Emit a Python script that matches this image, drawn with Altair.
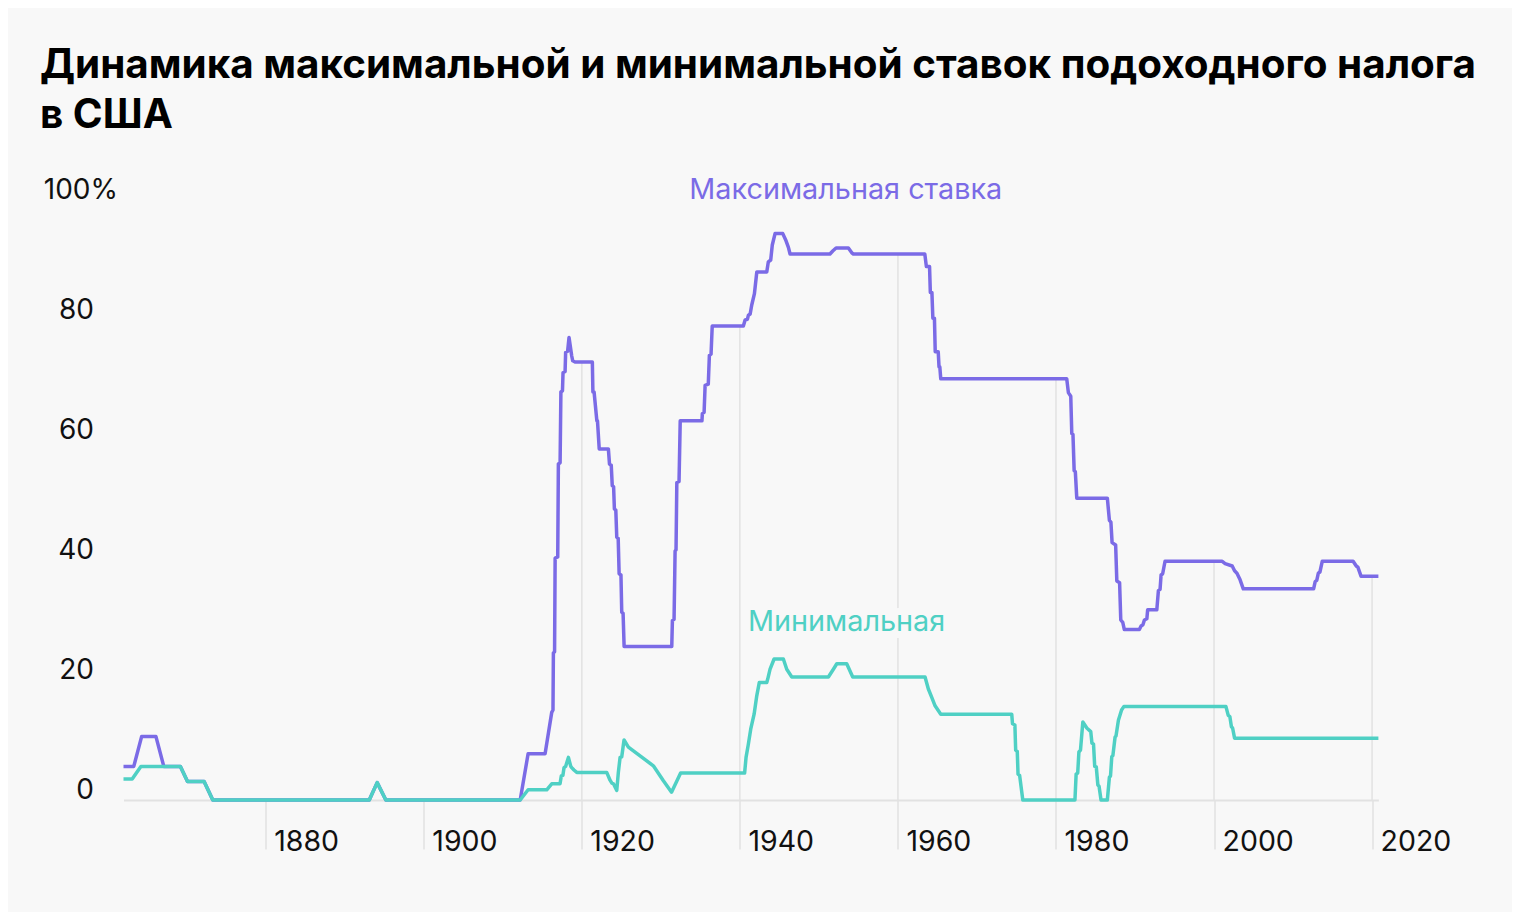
import altair as alt
import pandas as pd
import numpy as np

# ---- data ----
max_years = [1862.0, 1863.3, 1864.3, 1866.1, 1867.1, 1869.2, 1870.1, 1872.2, 1873.3, 1893.1, 1894.1, 1895.2,
             1912.2, 1913.2, 1915.35, 1916.19, 1916.35, 1916.4, 1916.55, 1916.62, 1916.95, 1917.03, 1917.25,
             1917.35, 1917.55, 1917.62, 1917.88, 1917.95, 1918.2, 1918.38, 1918.72, 1918.85, 1919.14,
             1921.33, 1921.4, 1921.55, 1921.9, 1921.98, 1922.2, 1923.36, 1923.5, 1923.72, 1923.85, 1924.02,
             1924.12, 1924.3, 1924.42, 1924.6, 1924.72, 1924.95, 1925.05, 1925.22, 1925.35,
             1931.38, 1931.46, 1931.67, 1931.8, 1931.92, 1932.02, 1932.3, 1932.45,
             1935.2, 1935.25, 1935.47, 1935.6, 1936.0, 1936.14, 1936.35, 1936.5,
             1940.44, 1940.66, 1940.95, 1941.08, 1941.3, 1941.5, 1941.84, 1942.14, 1943.4, 1943.6, 1943.9,
             1944.1, 1944.45, 1945.43, 1945.84, 1946.14, 1946.35,
             1951.4, 1951.75, 1952.17, 1953.73, 1954.16, 1954.36,
             1963.4, 1963.6, 1964.0, 1964.1, 1964.3, 1964.42, 1964.62, 1964.72, 1965.1, 1965.2, 1965.3, 1965.42,
             1981.36, 1981.57, 1981.87, 1982.0, 1982.15, 1982.3, 1982.45, 1982.63,
             1986.5, 1986.76, 1986.95, 1987.1, 1987.55, 1987.7, 1988.05, 1988.2, 1988.45, 1988.65,
             1990.55, 1990.77, 1991.0, 1991.19, 1991.5, 1991.6, 1992.76, 1992.96, 1993.17, 1993.3, 1993.5, 1993.8,
             2001.0, 2001.4, 2002.3, 2002.6, 2002.9, 2003.3, 2003.7,
             2012.6, 2012.8, 2013.0, 2013.2, 2013.4, 2013.7, 2017.6, 2018.0, 2018.2, 2018.6, 2020.8]
max_values = [5.6, 5.6, 10.6, 10.6, 5.6, 5.6, 3.1, 3.1, 0, 0, 2.9, 0,
              0, 7.7, 7.7, 14.6, 15, 24.5, 24.7, 40.3, 40.5, 56, 56.2,
              68, 68.2, 71.2, 71.4, 74.6, 74.8, 77.1, 74, 73.2, 73,
              73, 68, 68, 63.2, 63.2, 58.5, 58.5, 56, 55.8, 52.4, 52.2,
              48.5, 48.3, 43.8, 43.6, 37.7, 37.5, 31.3, 31.1, 25.6,
              25.6, 29.9, 30.1, 41.5, 41.7, 52.9, 53.1, 63.2,
              63.2, 64.4, 64.6, 69.1, 69.3, 74.1, 74.3, 79,
              79, 80, 80.1, 80.8, 81, 82.5, 84.4, 88, 88, 89.7, 90,
              92.5, 94.4, 94.4, 93.2, 92.1, 91,
              91, 91.5, 92, 92, 91.2, 91,
              91, 88.9, 88.9, 84.6, 84.6, 80.3, 80.3, 74.7, 74.7, 72.2, 72.2, 70.2,
              70.2, 67.9, 67.3, 61.1, 60.9, 54.9, 54.7, 50.3,
              50.3, 46.6, 46.3, 42.9, 42.5, 36.5, 36.2, 30, 29.6, 28.4,
              28.4, 29, 29.2, 30, 30.2, 31.7, 31.7, 34.9, 35.1, 37.5, 37.7, 39.8,
              39.8, 39.4, 39.0, 38.2, 37.8, 36.7, 35.2,
              35.2, 36.4, 36.6, 37.8, 38.0, 39.8, 39.8, 39.0, 38.8, 37.3, 37.3]

min_years = [1862.0, 1863.1, 1864.2, 1869.2, 1870.1, 1872.2, 1873.3, 1893.1, 1894.1, 1895.2,
             1912.2, 1913.2, 1915.56, 1916.19, 1917.24, 1917.4, 1917.6, 1917.75, 1917.95, 1918.3, 1918.6,
             1918.72, 1919.0, 1919.36, 1923.15, 1923.57, 1923.8, 1924.0, 1924.42, 1924.62, 1924.84, 1925.05,
             1925.34, 1925.89, 1929.05, 1930.32, 1931.35, 1932.5, 1940.6, 1940.78, 1941.07, 1941.37, 1941.8,
             1942.14, 1942.46, 1943.4, 1943.53, 1943.82, 1944.33, 1945.5, 1945.93, 1946.57, 1951.2, 1951.83,
             1952.26, 1953.52, 1954.28, 1963.43, 1963.85, 1964.28, 1964.7, 1965.42, 1974.4, 1974.5, 1974.8,
             1974.9, 1975.1, 1975.2, 1975.4, 1975.8, 1982.4, 1982.55, 1982.75, 1982.9, 1983.1, 1983.4, 1983.9,
             1984.4, 1984.55, 1984.75, 1984.9, 1985.1, 1985.3, 1985.45, 1985.7, 1986.5, 1986.76, 1986.9,
             1987.06, 1987.2, 1987.48, 1987.6, 1987.9, 1988.3, 1988.6, 2001.5, 2001.8, 2002.0, 2002.2,
             2002.35, 2002.6, 2020.8]
min_values = [3.5, 3.5, 5.6, 5.6, 3.1, 3.1, 0, 0, 2.9, 0,
              0, 1.7, 1.7, 2.7, 2.7, 4.0, 4.1, 5.4, 5.6, 7.1, 5.6,
              5.4, 5.0, 4.6, 4.6, 3.3, 2.8, 2.7, 1.6, 4.6, 7.1, 7.2,
              10.0, 8.8, 5.7, 3.2, 1.3, 4.5, 4.5, 7.1, 9.3, 11.8, 14.3,
              17.4, 19.6, 19.6, 20.2, 21.8, 23.5, 23.5, 21.8, 20.5, 20.5, 21.8,
              22.7, 22.7, 20.5, 20.5, 18.5, 17.1, 15.7, 14.3, 14.3, 12.7, 12.5,
              8.3, 8.1, 4.3, 4.1, 0, 0, 4.3, 4.5, 8.0, 8.3, 13.0, 12.0,
              11.4, 9.5, 9.3, 5.6, 5.5, 2.5, 2.3, 0, 0, 3.8, 4.0,
              7.2, 7.4, 10.5, 10.7, 13.3, 15.0, 15.6, 15.6, 14.1, 13.9, 12.2,
              12.0, 10.3, 10.3]

grid_years = [1880, 1900, 1920, 1940, 1960, 1980, 2000, 2020]
y_ticks = [0, 20, 40, 60, 80, 100]

label_texts = ["Максимальная ставка", "Минимальная"]
label_years = [1953.4, 1953.5]
label_values = [100.1, 28.1]

title_lines = ["Динамика максимальной и минимальной ставок подоходного налога", "в США"]

PURPLE = "#7b6be6"
TEAL = "#4fd0c4"
BG = "#f8f8f8"
GRID = "#e2e2e2"
FONT = "Inter"

# ---- tables ----
max_df = pd.DataFrame({"year": max_years, "value": max_values, "i": range(len(max_years))})
min_df = pd.DataFrame({"year": min_years, "value": min_values, "i": range(len(min_years))})
grid_df = pd.DataFrame({
    "year": grid_years,
    "top": np.interp(grid_years, max_years, max_values),
    "base": [0] * len(grid_years),
})
label_df = pd.DataFrame({"year": label_years, "value": label_values, "text": label_texts})

x_scale = alt.Scale(domain=[1862, 2020.8], nice=False, zero=False)
y_scale = alt.Scale(domain=[0, 100], nice=False)

x_axis = alt.Axis(
    values=grid_years, format="d", grid=False, title=None,
    domain=True, domainColor=GRID, domainWidth=2,
    ticks=True, tickSize=49, tickColor=GRID, tickWidth=1.5,
    labelAlign="left", labelOffset=8, labelPadding=-22, labelBaseline="top",
    labelFont=FONT, labelFontSize=28.5, labelColor="#111111",
    labelFlush=False, labelOverlap=False,
)
y_axis = alt.Axis(
    values=y_ticks, grid=False, domain=False, ticks=False, title=None,
    labelExpr="datum.value == 100 ? '100%' : datum.label",
    labelAlign="right", labelBaseline="middle", labelOffset=-10,
    labelPadding={"condition": {"test": "datum.value == 100", "value": 6}, "value": 30},
    labelFont=FONT, labelFontSize=28, labelColor="#111111",
)

X = alt.X("year:Q", scale=x_scale, axis=x_axis)

rules = alt.Chart(grid_df).mark_rule(color=GRID, strokeWidth=1.5).encode(
    x=X,
    y=alt.Y("top:Q", scale=y_scale, axis=y_axis),
    y2="base:Q",
)

max_line = alt.Chart(max_df).mark_line(color=PURPLE, strokeWidth=3.5, strokeJoin="round").encode(
    x=X, y=alt.Y("value:Q", scale=y_scale, axis=y_axis), order="i:Q"
)
min_line = alt.Chart(min_df).mark_line(color=TEAL, strokeWidth=3.5, strokeJoin="round").encode(
    x=X, y=alt.Y("value:Q", scale=y_scale, axis=y_axis), order="i:Q"
)

color_enc = alt.Color("text:N", scale=alt.Scale(domain=label_texts, range=[PURPLE, TEAL]), legend=None)

halo = alt.Chart(label_df).mark_text(
    font=FONT, fontSize=28.8, align="center", baseline="alphabetic",
    fill=BG, stroke=BG, strokeWidth=14, strokeJoin="round",
).encode(x=X, y=alt.Y("value:Q", scale=y_scale, axis=y_axis), text="text:N")

labels = alt.Chart(label_df).mark_text(
    font=FONT, fontSize=28.8, align="center", baseline="alphabetic",
).encode(x=X, y=alt.Y("value:Q", scale=y_scale, axis=y_axis), text="text:N", color=color_enc)

chart = alt.layer(rules, max_line, min_line, halo, labels).properties(
    width=1254.9,
    height=600,
    padding={"left": 115.5, "top": 192, "right": 133.6, "bottom": 112},
    autosize=alt.AutoSizeParams(type="none"),
    background=BG,
    title=alt.TitleParams(
        text=title_lines, anchor="start", frame="group", dx=-83.5, offset=40,
        font=FONT, fontSize=40.4, fontWeight="bold", lineHeight=50, color="#000000",
    ),
).configure_view(strokeWidth=0)

chart.save("out.html", embed_options={"renderer": "svg", "actions": False})
